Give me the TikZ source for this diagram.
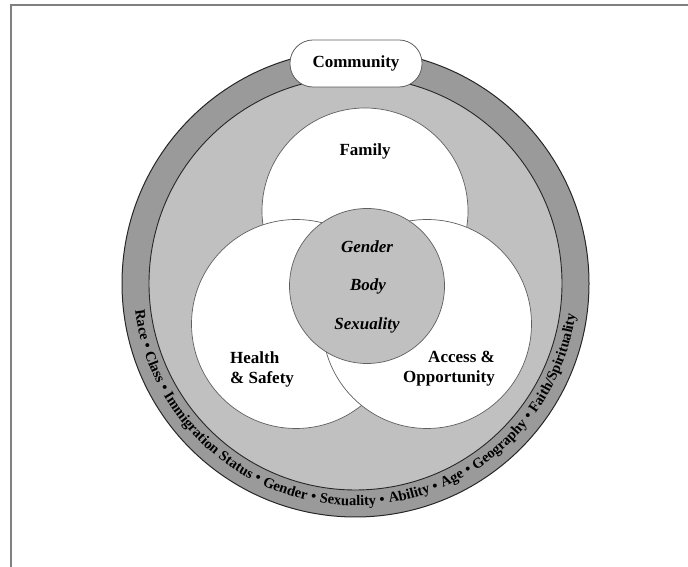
\documentclass[tikz,border=0pt]{standalone}
\usepackage{fontspec}
\setmainfont{Liberation Serif}
\usetikzlibrary{decorations.text}
\definecolor{ringdark}{RGB}{154,154,154}
\definecolor{ringlight}{RGB}{192,192,192}
\definecolor{framegray}{RGB}{128,128,128}
\definecolor{venline}{RGB}{95,95,95}
\tikzset{
  venn/.style={fill=white, draw=venline, line width=0.7pt},
  lbl/.style={font=\fontsize{17}{20}\selectfont\bfseries, inner sep=0pt},
  ilbl/.style={font=\fontsize{17}{20}\selectfont\bfseries\itshape, inner sep=0pt},
}
\begin{document}
\begin{tikzpicture}[x=1pt,y=1pt]
\useasboundingbox (0,0) rectangle (688,567);
% frame
\draw[framegray, line width=1.6pt] (10,562) -- (688,562);
\draw[framegray, line width=1.6pt] (11,562) -- (11,0);
% rings
\coordinate (c) at (355.5,283.5);
\fill[ringdark, draw=black!85, line width=1pt] (c) circle[radius=233.5];
\fill[ringlight, draw=black!85, line width=0.9pt] (c) circle[radius=206.5];
% venn
\draw[venn] (365,356) circle[radius=103];
\draw[venn] (296,243) circle[radius=104.5];
\draw[venn] (427,243) circle[radius=104.5];
\draw[venn, fill=ringlight] (367,281) circle[radius=77.5];
% community
\node[draw=venline, fill=white, line width=0.8pt, rounded corners=23pt,
      minimum width=132pt, minimum height=47pt, font=\fontsize{17}{20}\selectfont\bfseries]
      (community) at (356,503.5) {Community};
% labels
\node[lbl] (family) at (365,416) {Family};
\node[ilbl] (gender) at (367,320) {Gender};
\node[ilbl] (body) at (368,281) {Body};
\node[ilbl] (sexuality) at (367,242) {Sexuality};
\node[lbl, align=left, anchor=west] (health) at (230,198) {Health\\\& Safety};
\node[lbl, align=right, anchor=east] (access) at (495,198) {Access \&\\Opportunity};
% ring text
\path[decorate, decoration={text along path,
   text format delimiters={[}{]},
   text={[\fontsize{14.5}{15}\selectfont\bfseries]Race • Class • Immigration Status • Gender • Sexuality • Ability • Age • Geography • Faith/Spirituality},
   text align=fit to path stretching spaces}]
   (c) ++(187:222) arc[start angle=187, end angle=352, radius=222];
\end{tikzpicture}
\end{document}
